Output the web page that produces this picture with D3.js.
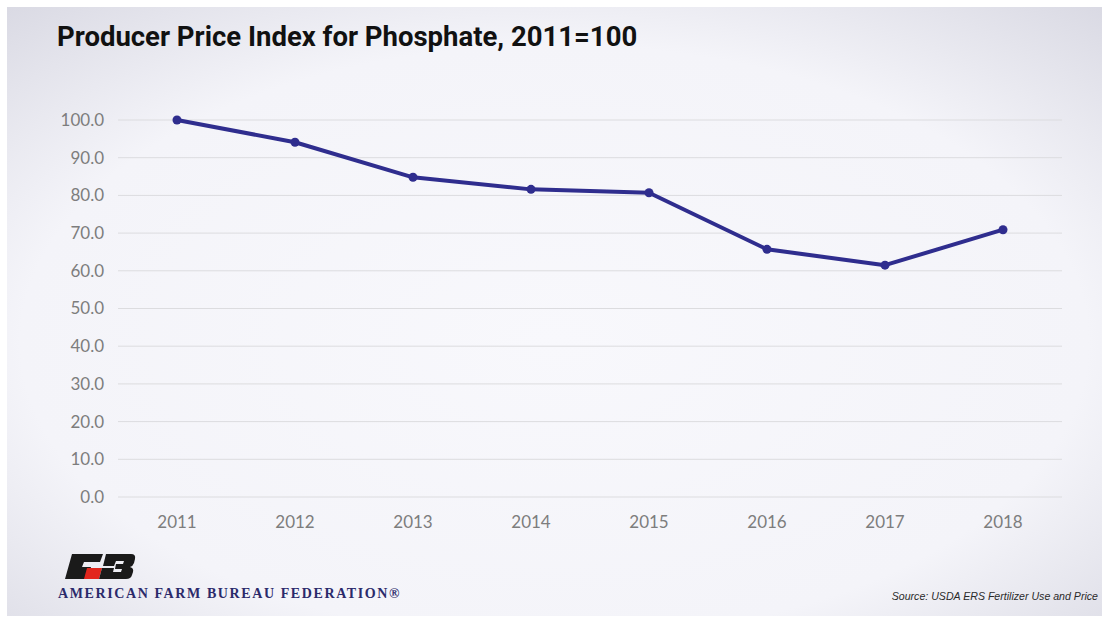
<!DOCTYPE html>
<html>
<head>
<meta charset="utf-8">
<script src="https://cdn.jsdelivr.net/npm/d3@7"></script>
<style>
  html, body { margin: 0; padding: 0; background: #fff; }
  svg { display: block; }
</style>
</head>
<body>
<div id="chart"></div>
<script>
const years = ['2011', '2012', '2013', '2014', '2015', '2016', '2017', '2018'];
const ppi = [100.0, 94.1, 84.8, 81.6, 80.7, 65.7, 61.5, 70.9];
const yTicks = [0, 10, 20, 30, 40, 50, 60, 70, 80, 90, 100];

const width = 1102;
const height = 622;
const margin = { top: 120, right: 40, bottom: 125, left: 118 };

const svg = d3.select('#chart')
  .append('svg')
  .attr('width', width)
  .attr('height', height);

// background with soft vignette
const defs = svg.append('defs');
const grad = defs.append('radialGradient')
  .attr('id', 'bg')
  .attr('cx', '50%').attr('cy', '55%').attr('r', '75%');
grad.append('stop').attr('offset', '0%').attr('stop-color', '#f8f8fc');
grad.append('stop').attr('offset', '65%').attr('stop-color', '#f4f4f9');
grad.append('stop').attr('offset', '100%').attr('stop-color', '#d9d9e3');

svg.append('rect')
  .attr('x', 7).attr('y', 7)
  .attr('width', width - 7).attr('height', height - 13)
  .attr('fill', 'url(#bg)');

svg.append('text')
  .attr('x', 57)
  .attr('y', 46)
  .attr('font-family', '"Liberation Sans Narrow", "Roboto", sans-serif')
  .attr('font-weight', 'bold')
  .attr('font-size', '27.5px')
  .attr('fill', '#111')
  .text('Producer Price Index for Phosphate, 2011=100');

const x = d3.scaleBand()
  .domain(years)
  .range([margin.left, 1062]);

const y = d3.scaleLinear()
  .domain([0, 100])
  .range([497, 120]);

// gridlines
svg.append('g')
  .selectAll('line')
  .data(yTicks)
  .enter()
  .append('line')
  .attr('x1', margin.left)
  .attr('x2', 1062)
  .attr('y1', (d) => y(d))
  .attr('y2', (d) => y(d))
  .attr('stroke', '#dcdcdf')
  .attr('stroke-width', 1);

// y axis labels
const yAxis = svg.append('g')
  .attr('transform', `translate(${margin.left},0)`)
  .call(d3.axisLeft(y).tickValues(yTicks).tickFormat(d3.format('.1f')).tickSize(0).tickPadding(14));
yAxis.select('.domain').remove();
yAxis.selectAll('text')
  .attr('font-family', 'Lato, "DejaVu Sans", sans-serif')
  .attr('font-size', '17px')
  .attr('fill', '#7d7d7d');

// x axis labels
const xAxis = svg.append('g')
  .attr('transform', 'translate(0,497)')
  .call(d3.axisBottom(x).tickSize(0).tickPadding(19));
xAxis.select('.domain').remove();
xAxis.selectAll('text')
  .attr('font-family', 'Lato, "DejaVu Sans", sans-serif')
  .attr('font-size', '17px')
  .attr('fill', '#7d7d7d');

// series line
const points = years.map((yr, i) => ({ yr, v: ppi[i] }));
const line = d3.line()
  .x((d) => x(d.yr) + x.bandwidth() / 2)
  .y((d) => y(d.v));

svg.append('path')
  .datum(points)
  .attr('d', line)
  .attr('fill', 'none')
  .attr('stroke', '#2f2d8e')
  .attr('stroke-width', 4)
  .attr('stroke-linejoin', 'round');

svg.selectAll('circle.pt')
  .data(points)
  .enter()
  .append('circle')
  .attr('class', 'pt')
  .attr('cx', (d) => x(d.yr) + x.bandwidth() / 2)
  .attr('cy', (d) => y(d.v))
  .attr('r', 4.5)
  .attr('fill', '#2f2d8e');

// logo
const logo = svg.append('g').attr('transform', 'translate(65,554)');
logo.append('path')
  .attr('d', 'M7,0 L38,0 L35,8 L19,8 L17,13 L26,13 L23,25 L0,25 Z')
  .attr('fill', '#1a1a1a');
logo.append('path')
  .attr('d', 'M22,14 L37,14 L34,25 L19,25 Z')
  .attr('fill', '#e2261d');
logo.append('path')
  .attr('d', 'M41,0 L66,0 Q71,0 70,5 L69,9 Q68,12 65,13 Q69,14 68,18 L67,21 Q66,25 61,25 L34,25 L37,14 L49,14 L48,18 L56,18 L57,15 L50,15 L51,10 L58,10 L59,7 L51,7 L49,12 L38,12 Z')
  .attr('fill', '#1a1a1a');

svg.append('text')
  .attr('x', 58)
  .attr('y', 598)
  .attr('font-family', '"Liberation Serif", "DejaVu Serif", serif')
  .attr('font-weight', 'bold')
  .attr('font-size', '14px')
  .attr('letter-spacing', '1.6px')
  .attr('fill', '#2b2a6b')
  .text('AMERICAN FARM BUREAU FEDERATION®');

svg.append('text')
  .attr('x', 1098)
  .attr('y', 600)
  .attr('text-anchor', 'end')
  .attr('font-family', '"Liberation Sans", Arial, sans-serif')
  .attr('font-style', 'italic')
  .attr('font-size', '10.6px')
  .attr('fill', '#2a2a2a')
  .text('Source: USDA ERS Fertilizer Use and Price');
</script>
</body>
</html>
